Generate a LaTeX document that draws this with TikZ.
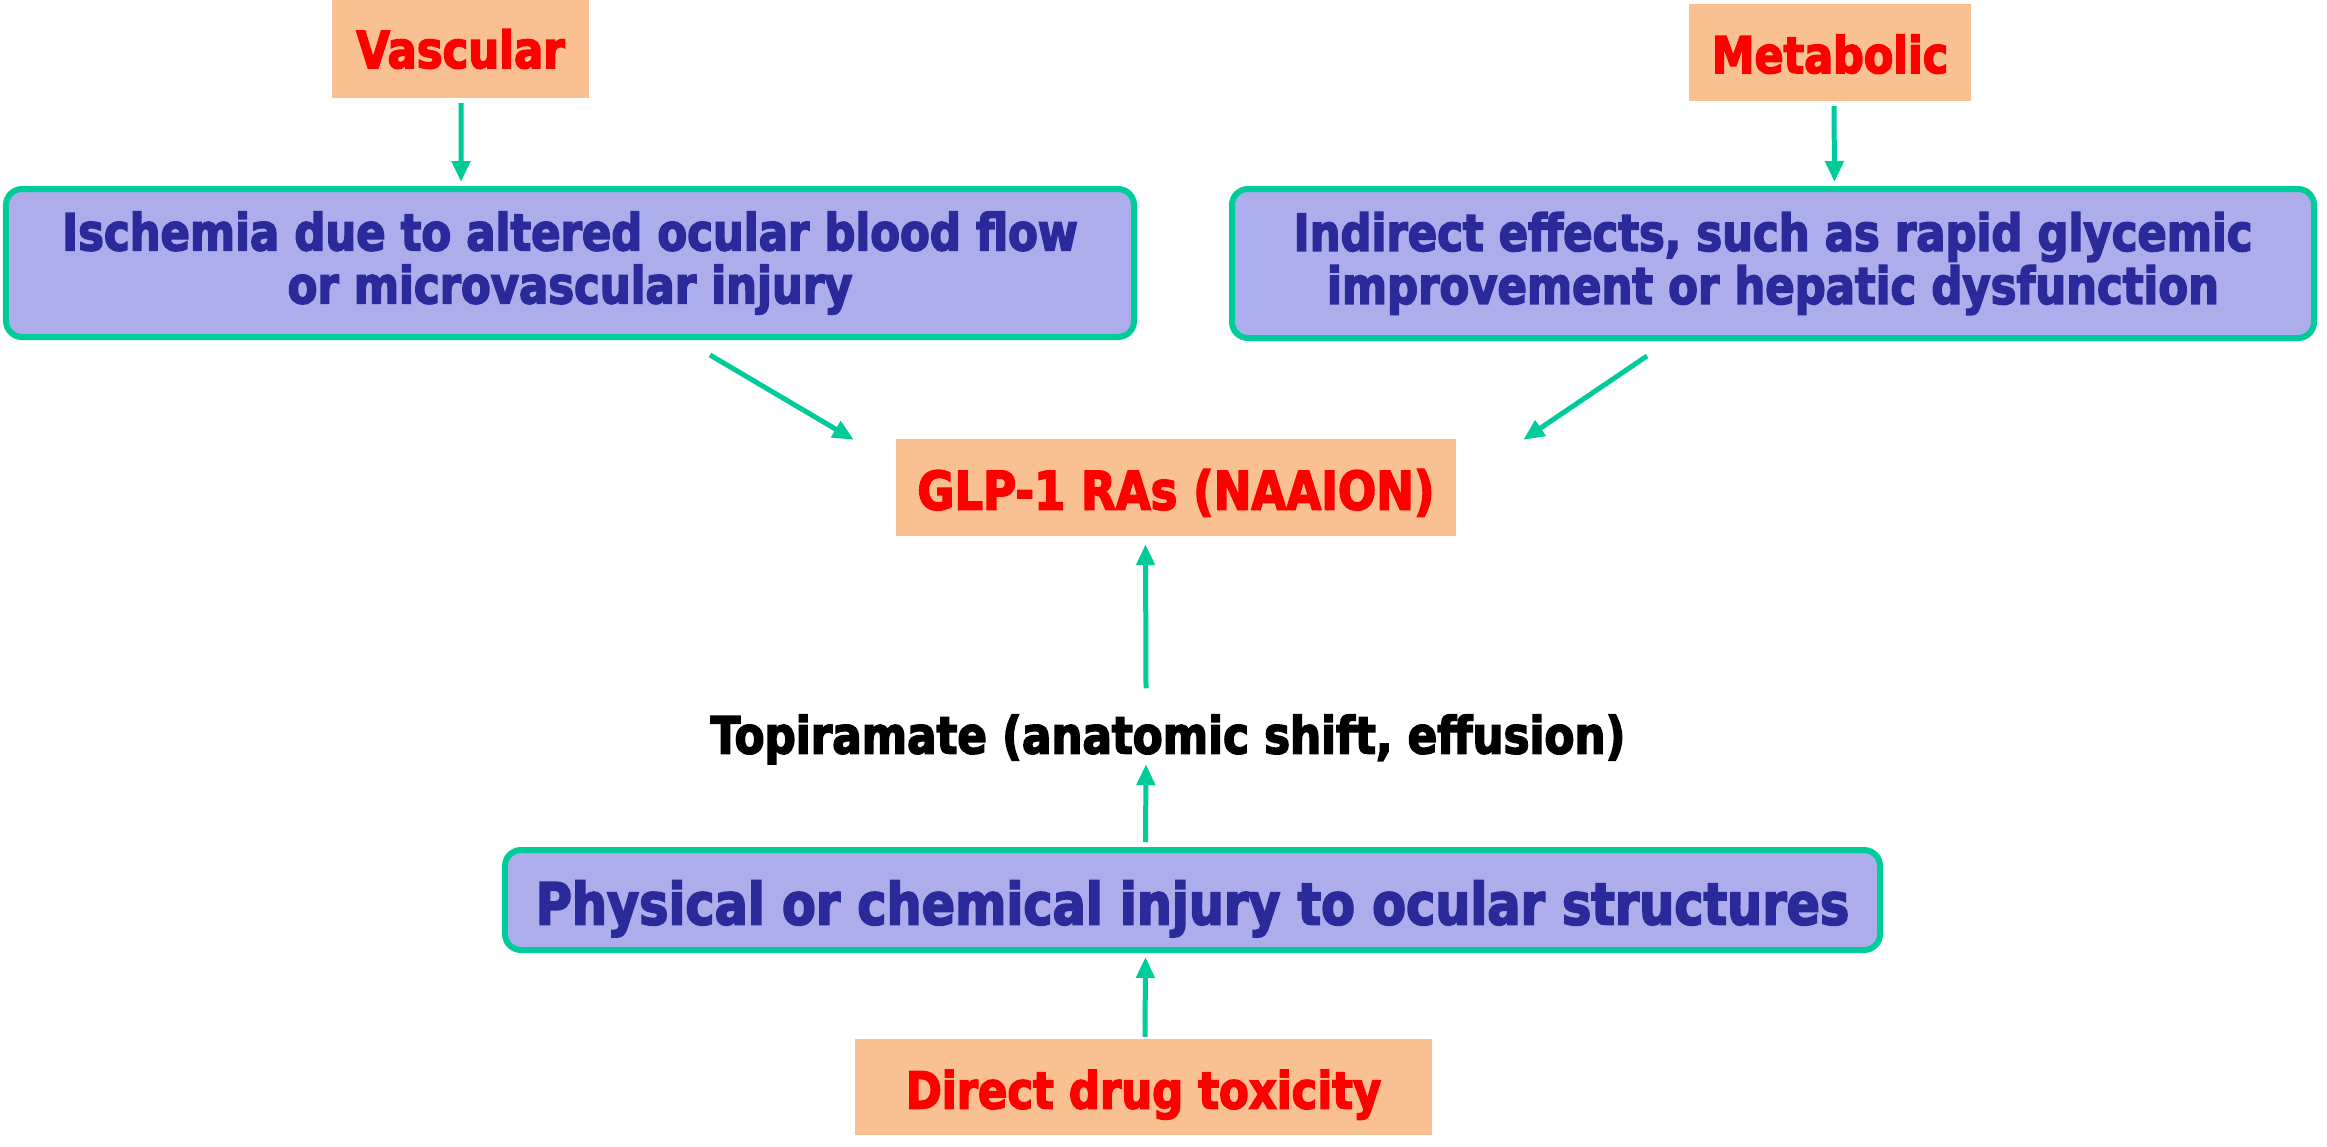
\documentclass[tikz,border=0pt]{standalone}
\usepackage{fontspec}
\setmainfont{DejaVu Sans}[FakeStretch=0.85,FakeBold=3]
\usetikzlibrary{arrows.meta,calc}
\definecolor{peach}{RGB}{249,193,146}
\definecolor{lav}{RGB}{173,173,235}
\definecolor{grn}{RGB}{0,204,153}
\definecolor{navy}{RGB}{42,42,154}
\definecolor{rd}{RGB}{255,0,0}
\newcommand{\fsz}[1]{\bfseries\fontsize{#1bp}{53bp}\selectfont}
\begin{document}
\begin{tikzpicture}[x=1bp,y=-1bp,
  tag/.style={fill=peach, text=rd, inner sep=0pt, align=center},
  mech/.style={fill=lav, draw=grn, line width=6bp, rounded corners=16bp, text=navy, inner sep=0pt, align=center},
  oneline/.style={text height=#1, text depth=0pt},
  arr/.style={draw=grn, line width=5bp, -{Triangle[length=21bp,width=18bp]}}]
\useasboundingbox (0,0) rectangle (2327,1146);
\node[tag, font=\fsz{51}, minimum width=257bp, minimum height=98bp] (vasc) at (460.5,49) {Vascular};
\node[tag, font=\fsz{50.5}, oneline=41bp, minimum width=282bp, minimum height=97bp] (metab) at (1830,52.5) {Metabolic};
\node[mech, font=\fsz{51}, minimum width=1128bp, minimum height=148bp] (isch) at (570,263) {Ischemia due to altered ocular blood flow\\or microvascular injury};
\node[mech, font=\fsz{51}, minimum width=1082bp, minimum height=149bp] (indir) at (1773,263.5) {Indirect effects, such as rapid glycemic\\improvement or hepatic dysfunction};
\node[tag, font=\fsz{53}, oneline=44bp, minimum width=560bp, minimum height=97bp] (glp) at (1176,487.5) {GLP-1 RAs (NAAION)};
\node[font=\fsz{51.3}, oneline=43bp, inner sep=0pt] (topi) at (1168,732) {Topiramate (anatomic shift, effusion)};
\node[mech, font=\fsz{58}, oneline=49bp, minimum width=1375bp, minimum height=100bp] (phys) at (1192.5,900) {Physical or chemical injury to ocular structures};
\node[tag, font=\fsz{51}, oneline=43bp, minimum width=577bp, minimum height=96bp] (direct) at (1143.5,1087) {Direct drug toxicity};
\draw[arr] ($(vasc.south)+(0.5,5)$) -- ($(isch.north)+(-109,-4)$);
\draw[arr] ($(metab.south)+(4,5)$) -- ($(indir.north)+(61.5,-4)$);
\draw[arr] ($(isch.south)+(140,15)$) -- ($(glp.north west)+(-42,1)$);
\draw[arr] ($(indir.south)+(-126,15)$) -- ($(glp.north east)+(67,1)$);
\draw[arr] ($(topi.north)+(-22,-22)$) -- ($(glp.south)+(-30.5,8)$);
\draw[arr] ($(phys.north)+(-47,-5)$) -- ($(topi.south)+(-22,10.5)$);
\draw[arr] ($(direct.north)+(1.5,-2)$) -- ($(phys.south)+(-47,4)$);
\end{tikzpicture}
\end{document}
